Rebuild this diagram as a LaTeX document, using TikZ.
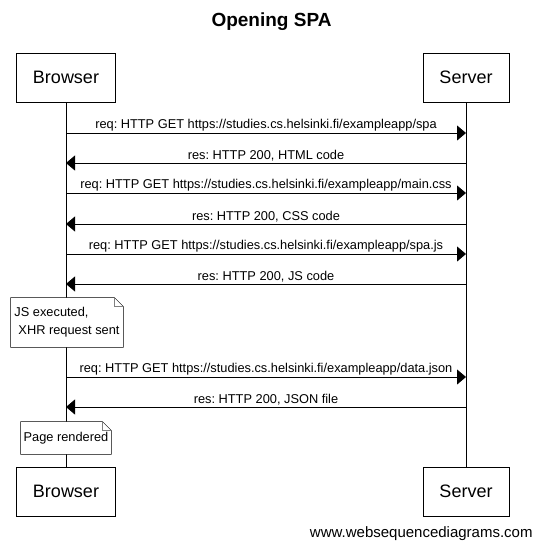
\documentclass[tikz,border=0pt]{standalone}
\usepackage{fontspec}
\setmainfont{Liberation Sans}
\usetikzlibrary{arrows.meta,calc,backgrounds}
\frenchspacing

\begin{document}
\begin{tikzpicture}[x=1pt, y=-1pt, line width=0.8pt,
    actor/.style={draw, rectangle, minimum height=49pt, font=\fontsize{18}{20}\selectfont},
    msg/.style={-{Triangle[length=9pt,width=15pt]}},
    lbl/.style={above, inner sep=1.5pt, font=\fontsize{12.8}{14}\selectfont},
    note/.style={align=left, inner sep=0pt, font=\fontsize{12.8}{18}\selectfont}]
    \useasboundingbox (0,0) rectangle (543,550);
    % Title
    \node[font=\fontsize{19}{22}\selectfont\bfseries] (title) at (271.5,22) {Opening SPA};
    % Participants, top and bottom
    \node[actor, minimum width=99pt] (btop) at (66,77.5) {Browser};
    \node[actor, minimum width=86pt] (stop) at (466,77.5) {Server};
    \node[actor, minimum width=99pt] (bbot) at (66,491.5) {Browser};
    \node[actor, minimum width=86pt] (sbot) at (466,491.5) {Server};
    % Notes on the browser
    \node[note, minimum width=112pt, minimum height=49pt] (jsnote) at (67,322.5) {JS executed,\\\hspace{4pt}XHR request sent};
    \node[note, minimum width=90pt, minimum height=32pt] (pagenote) at (66,438) {Page rendered};
    % Lifelines and note outlines
    \begin{scope}[on background layer]
        \draw (btop) -- (bbot);
        \draw (stop) -- (sbot);
        \foreach \n in {jsnote,pagenote} {
            \draw[fill=white] (\n.south west) -- (\n.north west) -- ($(\n.north east)+(-9pt,0pt)$)
                -- ($(\n.north east)+(0pt,-9pt)$) -- (\n.south east) -- cycle;
            \draw[gray] ($(\n.north east)+(-9pt,0pt)$) |- ($(\n.north east)+(0pt,-9pt)$);
        }
    \end{scope}
    % Requests
    \foreach \y/\txt in {133/{req: HTTP GET https://studies.cs.helsinki.fi/exampleapp/spa},
                         193/{req: HTTP GET https://studies.cs.helsinki.fi/exampleapp/main.css},
                         254/{req: HTTP GET https://studies.cs.helsinki.fi/exampleapp/spa.js},
                         377/{req: HTTP GET https://studies.cs.helsinki.fi/exampleapp/data.json}} {
        \coordinate (row) at (0,\y);
        \draw[msg] (btop |- row) -- node[lbl] {\txt} (stop |- row);
    }
    % Responses
    \foreach \y/\txt in {163/{res: HTTP 200, HTML code},
                         224/{res: HTTP 200, CSS code},
                         284/{res: HTTP 200, JS code},
                         407/{res: HTTP 200, JSON file}} {
        \coordinate (row) at (0,\y);
        \draw[msg] (stop |- row) -- node[lbl] {\txt} (btop |- row);
    }
    \node[anchor=east, inner sep=0pt, font=\fontsize{15}{17}\selectfont] (credit) at (533,534) {www.websequencediagrams.com};
\end{tikzpicture}
\end{document}
